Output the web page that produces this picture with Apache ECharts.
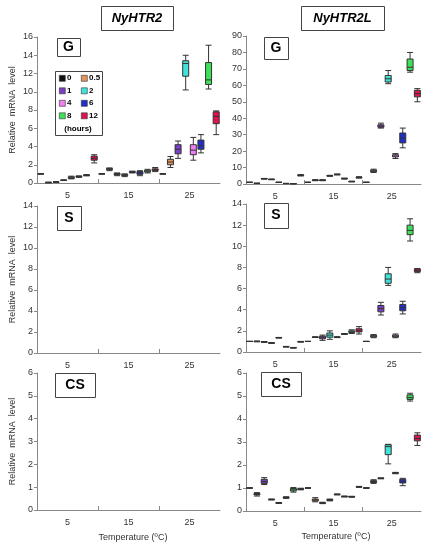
<!DOCTYPE html>
<html>
<head>
<meta charset="utf-8">
<script src="https://cdn.jsdelivr.net/npm/echarts@6/dist/echarts.min.js"></script>
<style>html,body{margin:0;background:#fff}#main{width:438px;height:550px}</style>
</head>
<body>
<div id="main"></div>
<script>
// time points (hours) and their colours
var hours = ['0', '0.5', '1', '2', '4', '6', '8', '12'];
var hourColors = ['#111111', '#e0955e', '#7b3fc6', '#3fe3da', '#f07ef0', '#1f2fc8', '#3ee05a', '#e0134f'];
var temps = ['5', '15', '25'];

// [min, Q1, median, Q3, max] per temperature (5,15,25) x hour (0..12)
var htr2G = [
  [1,1,1,1,1],[0.02,0.03,0.05,0.07,0.1],[0.08,0.09,0.1,0.12,0.13],[0.27,0.28,0.3,0.32,0.34],[0.45,0.5,0.58,0.68,0.75],[0.62,0.66,0.7,0.74,0.78],[0.78,0.82,0.85,0.88,0.92],[2.2,2.5,2.7,2.95,3.1],
  [1,1,1,1,1],[1.35,1.45,1.5,1.6,1.65],[0.8,0.9,0.95,1.05,1.1],[0.7,0.8,0.85,0.95,1.0],[1.1,1.15,1.2,1.25,1.3],[0.8,0.95,1.1,1.25,1.35],[1.1,1.2,1.3,1.4,1.5],[1.25,1.35,1.45,1.55,1.7],
  [1,1,1,1,1],[1.7,2.0,2.3,2.6,2.9],[2.7,3.2,3.7,4.2,4.6],[10.2,11.7,13.1,13.4,14.0],[2.5,3.1,3.6,4.2,5.0],[3.3,3.7,4.1,4.7,5.3],[10.3,10.8,11.3,13.2,15.1],[5.3,6.5,7.3,7.8,7.9]
];
var htr2lG = [
  [1,1,1,1,1],[0.3,0.35,0.4,0.45,0.5],[3.0,3.1,3.2,3.3,3.4],[2.6,2.7,2.8,2.9,3.0],[0.9,0.95,1.0,1.05,1.1],[0.2,0.25,0.3,0.35,0.4],[0.1,0.15,0.2,0.25,0.3],[4.9,5.1,5.3,5.5,5.7],
  [1,1,1,1,1],[2.0,2.2,2.3,2.4,2.6],[2.0,2.2,2.3,2.4,2.6],[4.7,4.9,5.0,5.1,5.3],[5.5,5.7,5.8,5.9,6.1],[3.0,3.2,3.3,3.4,3.6],[1.3,1.4,1.5,1.6,1.7],[3.6,3.8,4.0,4.2,4.4],
  [1,1,1,1,1],[7,7.5,8,8.5,9],[34,34.5,35.2,36,37],[61,62,64,66,69],[15.5,16.5,17,17.8,18.5],[22,25,28,31,34],[68,69,71,76,80],[50,53,55,57,58]
];
var htr2lS = [
  [1,1,1,1,1],[0.97,0.98,1.0,1.02,1.03],[0.92,0.94,0.95,0.97,0.98],[0.82,0.84,0.85,0.87,0.88],[1.32,1.34,1.35,1.37,1.38],[0.47,0.49,0.5,0.52,0.53],[0.37,0.39,0.4,0.42,0.43],[0.94,0.96,0.97,0.99,1.0],
  [1,1,1,1,1],[1.37,1.39,1.4,1.42,1.43],[1.1,1.25,1.4,1.5,1.6],[1.2,1.4,1.6,1.8,2.0],[1.36,1.38,1.4,1.42,1.44],[1.66,1.68,1.7,1.72,1.74],[1.75,1.85,1.9,2.0,2.1],[1.7,1.9,2.05,2.2,2.4],
  [1,1,1,1,1],[1.35,1.42,1.5,1.58,1.65],[3.5,3.8,4.1,4.4,4.7],[6.3,6.5,6.9,7.4,8.0],[1.35,1.42,1.5,1.6,1.7],[3.6,3.9,4.2,4.5,4.8],[10.5,11.1,11.5,12.0,12.6],[7.5,7.6,7.7,7.85,7.9]
];
var htr2lCS = [
  [1,1,1,1,1],[0.65,0.7,0.72,0.76,0.8],[1.15,1.2,1.28,1.38,1.45],[0.48,0.49,0.5,0.51,0.52],[0.33,0.34,0.35,0.36,0.37],[0.55,0.57,0.58,0.6,0.62],[0.82,0.87,0.92,0.98,1.02],[0.92,0.94,0.95,0.97,0.99],
  [1,1,1,1,1],[0.4,0.44,0.48,0.52,0.58],[0.32,0.34,0.35,0.36,0.38],[0.44,0.46,0.48,0.5,0.52],[0.7,0.71,0.72,0.73,0.74],[0.61,0.62,0.63,0.64,0.65],[0.6,0.61,0.62,0.63,0.64],[1.03,1.04,1.05,1.06,1.07],
  [1,1,1,1,1],[1.2,1.24,1.28,1.32,1.36],[1.4,1.41,1.42,1.43,1.44],[2.05,2.45,2.8,2.88,2.9],[1.62,1.64,1.65,1.66,1.68],[1.1,1.22,1.3,1.38,1.42],[4.78,4.85,4.93,5.05,5.12],[2.85,3.05,3.15,3.3,3.4]
];

var panels = [
  {left: 37, top: 37, width: 183, height: 146, max: 16, step: 2, data: htr2G, name: true},
  {left: 246, top: 36, width: 175, height: 148, max: 90, step: 10, data: htr2lG},
  {left: 37, top: 206, width: 183, height: 147, max: 14, step: 2, data: null, name: true},
  {left: 246, top: 204, width: 175, height: 148, max: 14, step: 2, data: htr2lS},
  {left: 37, top: 373, width: 183, height: 137, max: 6, step: 1, data: null, name: true},
  {left: 246, top: 373, width: 175, height: 138, max: 6, step: 1, data: htr2lCS}
];

var slots = [];
temps.forEach(function (t) { hours.forEach(function (h) { slots.push(t + '-' + h); }); });

var grid = [], xAxis = [], yAxis = [], series = [];
var axisGray = '#888';
panels.forEach(function (p, i) {
  grid.push({left: p.left, top: p.top, width: p.width, height: p.height});
  xAxis.push({type: 'category', gridIndex: i, data: slots, show: false, position: 'bottom'});
  xAxis.push({
    type: 'value', gridIndex: i, min: 0, max: 30, position: 'bottom',
    axisLine: {lineStyle: {color: axisGray}},
    splitLine: {show: false},
    axisTick: {inside: true, length: 4, lineStyle: {color: axisGray}, customValues: [10, 20]},
    axisLabel: {customValues: temps.map(Number), fontSize: 9, color: '#333', margin: 8, fontFamily: 'Liberation Sans'}
  });
  yAxis.push({
    type: 'value', gridIndex: i, min: 0, max: p.max, interval: p.step,
    name: p.name ? 'Relative  mRNA  level' : '', nameLocation: 'middle', nameGap: 20,
    nameTextStyle: {fontSize: 9, color: '#333', fontFamily: 'Liberation Sans'},
    axisLine: {show: true, lineStyle: {color: axisGray}},
    axisTick: {show: true, length: 3, lineStyle: {color: axisGray}},
    splitLine: {show: false},
    axisLabel: {fontSize: 9, color: '#333', margin: 4, fontFamily: 'Liberation Sans'}
  });
  if (p.data) {
    series.push({
      type: 'boxplot', xAxisIndex: 2 * i, yAxisIndex: i,
      boxWidth: [6, 7],
      data: p.data.map(function (v, k) {
        return {value: v, itemStyle: {color: hourColors[k % 8], borderColor: '#333', borderWidth: 1}};
      })
    });
  }
});

var graphic = [];
function framedText(x, y, w, h, text, size, italic) {
  graphic.push({type: 'rect', left: x, top: y, shape: {width: w, height: h},
    style: {fill: '#fff', stroke: '#444', lineWidth: 1}, z: 10});
  graphic.push({type: 'text', x: x + w / 2, y: y + h / 2, z: 11,
    style: {text: text, fill: '#000', font: (italic ? 'italic ' : '') + 'bold ' + size + 'px Liberation Sans',
      align: 'center', verticalAlign: 'middle'}});
}
framedText(101, 6, 72, 24, 'NyHTR2', 13, true);
framedText(301, 6, 83, 24, 'NyHTR2L', 13, true);
framedText(57, 38, 23, 18, 'G', 14);
framedText(264, 37, 24, 22, 'G', 14);
framedText(57, 206, 24, 24, 'S', 14);
framedText(264, 203, 24, 25, 'S', 14);
framedText(55, 373, 40, 24, 'CS', 14);
framedText(261, 372, 40, 24, 'CS', 14);

// legend box
graphic.push({type: 'rect', left: 55, top: 71, shape: {width: 47, height: 64},
  style: {fill: '#fff', stroke: '#444', lineWidth: 1}, z: 10});
hours.forEach(function (h, k) {
  var col = k % 2, row = Math.floor(k / 2);
  var x = 59 + col * 22, y = 75 + row * 12.5;
  graphic.push({type: 'rect', left: x, top: y, shape: {width: 6, height: 6},
    style: {fill: hourColors[k], stroke: '#333', lineWidth: 0.6}, z: 11});
  graphic.push({type: 'text', x: x + 8, y: y + 3, z: 11,
    style: {text: h, fill: '#000', font: 'bold 8px Liberation Sans', verticalAlign: 'middle'}});
});
graphic.push({type: 'text', x: 78, y: 129, z: 11,
  style: {text: '(hours)', fill: '#000', font: 'bold 8px Liberation Sans', align: 'center', verticalAlign: 'middle'}});

// x axis titles
graphic.push({type: 'text', x: 133, y: 538, style: {text: 'Temperature (ºC)', fill: '#333', font: '9px Liberation Sans', align: 'center', verticalAlign: 'middle'}});
graphic.push({type: 'text', x: 336, y: 537, style: {text: 'Temperature (ºC)', fill: '#333', font: '9px Liberation Sans', align: 'center', verticalAlign: 'middle'}});

var chart = echarts.init(document.getElementById('main'));
chart.setOption({
  animation: false,
  grid: grid, xAxis: xAxis, yAxis: yAxis, series: series, graphic: graphic
});
</script>
</body>
</html>
